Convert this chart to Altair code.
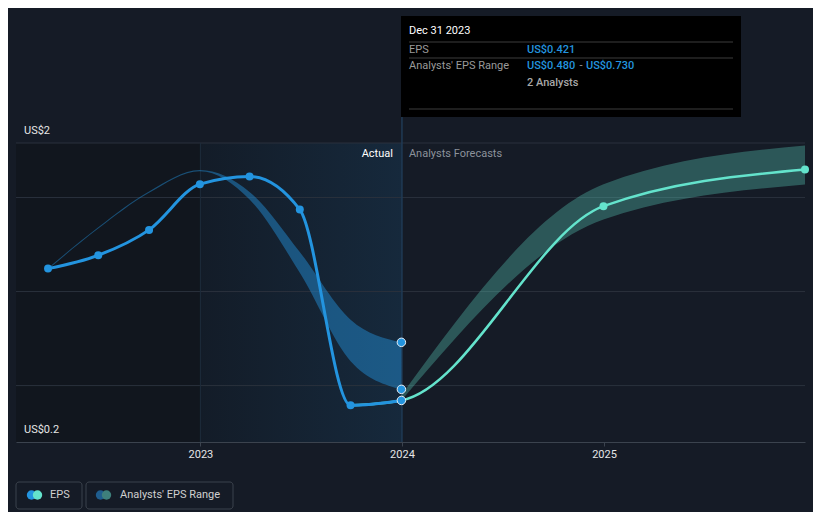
import altair as alt
import pandas as pd

# ---------------- data ----------------
eps_dates = ["2022-03-31", "2022-06-30", "2022-09-30", "2022-12-31",
             "2023-03-31", "2023-06-30", "2023-09-30", "2023-12-31"]
eps_values = [1.122, 1.193, 1.328, 1.571, 1.612, 1.436, 0.395, 0.421]

# past analysts' EPS range (estimates made for each past quarter)
past_low = [1.118, 1.335, 1.525, 1.640, 1.490, 1.100, 0.630, 0.480]
past_high = [1.124, 1.342, 1.532, 1.646, 1.530, 1.210, 0.850, 0.730]

# forecasts
fc_dates = ["2023-12-31", "2024-12-31", "2025-12-31"]
fc_eps = [0.421, 1.454, 1.649]
fc_low = [0.421, 1.383, 1.569]
fc_high = [0.450, 1.570, 1.777]

y_ticks = [0.5, 1.0, 1.5, 1.79]
y_label_values = [1.79, 0.2]
y_label_texts = ["US$2", "US$0.2"]
x_years = [2023, 2024, 2025]

# ---------------- layout / style ----------------
W, H = 789, 299
BG = "#151b26"
BLUE = "#2394df"
TEAL = "#64e3cc"
FONT = "Roboto"

xscale = alt.Scale(type="utc", domain=[alt.DateTime(year=2022, month=2, date=1, utc=True),
                                       alt.DateTime(year=2025, month=12, date=31, utc=True)])
yscale = alt.Scale(domain=[0.2, 1.79], zero=False, nice=False)

xaxis = alt.Axis(values=[alt.DateTime(year=y, month=1, date=1, utc=True) for y in x_years],
                 format="%Y", title=None, grid=False, labelColor="#e6e6e6", labelFont=FONT,
                 labelFontSize=11, tickSize=4, tickColor="#3b434e", domainColor="#3b434e",
                 labelPadding=2, labelFlush=False)
yaxis = alt.Axis(values=y_ticks, labels=False, ticks=False, domain=False, grid=False, title=None)


def X(field="date"):
    return alt.X(f"{field}:T", scale=xscale, axis=xaxis)


def Y(field):
    return alt.Y(f"{field}:Q", scale=yscale, axis=yaxis)


eps_df = pd.DataFrame({"date": eps_dates, "eps": eps_values, "low": past_low, "high": past_high})
fc_df = pd.DataFrame({"date": fc_dates, "eps": fc_eps, "low": fc_low, "high": fc_high})
# teal forecast line continues the actual series (smooth join at Dec 2023)
teal_df = pd.DataFrame({"date": [eps_dates[-2]] + fc_dates, "eps": [eps_values[-2]] + fc_eps})
dot_df = pd.DataFrame({"date": [eps_dates[-1]] * 3,
                       "v": [eps_values[-1], past_low[-1], past_high[-1]]})
ylab_df = pd.DataFrame({"v": y_label_values, "t": y_label_texts})

dummy = pd.DataFrame({"k": [0]})

# shaded backgrounds
shade_left = alt.Chart(pd.DataFrame({"a": ["2022-02-01"], "b": ["2023-01-01"]})).mark_rect(
    color="#11161e").encode(x=X("a"), x2="b:T", y=alt.value(0), y2=alt.value(H))
shade_mid = alt.Chart(pd.DataFrame({"a": ["2023-01-01"], "b": ["2024-01-01"]})).mark_rect(
    color=alt.Gradient(gradient="linear",
                       stops=[alt.GradientStop(color="#131c28", offset=0),
                              alt.GradientStop(color="#16293c", offset=1)],
                       x1=0, x2=1, y1=0, y2=0)
).encode(x=X("a"), x2="b:T", y=alt.value(0), y2=alt.value(H))

grid_layer = alt.Chart(pd.DataFrame({"v": y_ticks})).mark_rule(
    color="#2a313c", strokeWidth=1).encode(y=Y("v"))

rule23 = alt.Chart(pd.DataFrame({"date": ["2023-01-01"]})).mark_rule(
    color="#1d2b3b", strokeWidth=1).encode(x=X(), y=alt.value(0), y2=alt.value(H))
rule24 = alt.Chart(pd.DataFrame({"date": ["2024-01-01"]})).mark_rule(
    color="#1f3a55", strokeWidth=1.5).encode(x=X(), y=alt.value(-26), y2=alt.value(H))

past_band = alt.Chart(eps_df).mark_area(interpolate="monotone", color=BLUE, opacity=0.45).encode(
    x=X(), y=Y("low"), y2="high:Q")
fc_band = alt.Chart(fc_df).mark_area(interpolate="monotone", color=TEAL, opacity=0.3).encode(
    x=X(), y=Y("low"), y2="high:Q")

teal_line = alt.Chart(teal_df).mark_line(interpolate="monotone", color=TEAL, strokeWidth=2.5).encode(
    x=X(), y=Y("eps"))
teal_pts = alt.Chart(fc_df.iloc[1:]).mark_point(filled=True, color=TEAL, size=64, opacity=1).encode(
    x=X(), y=Y("eps"))

blue_line = alt.Chart(eps_df).mark_line(interpolate="monotone", color=BLUE, strokeWidth=3).encode(
    x=X(), y=Y("eps"))
blue_pts = alt.Chart(eps_df.iloc[:-1]).mark_point(filled=True, color=BLUE, size=64, opacity=1).encode(
    x=X(), y=Y("eps"))
dots = alt.Chart(dot_df).mark_point(filled=True, fill=BLUE, stroke="#e8eef5", strokeWidth=1,
                                    size=72, opacity=1).encode(x=X(), y=Y("v"))

ylabels = alt.Chart(ylab_df).mark_text(align="left", baseline="middle", dy=-12, font=FONT,
                                       fontSize=11, color="#e6e6e6").encode(
    x=alt.value(8), y=Y("v"), text="t:N")

lab_df = pd.DataFrame({"date": ["2024-01-01"]})
actual_lab = alt.Chart(lab_df).mark_text(align="right", baseline="middle", dx=-9, font=FONT,
                                         fontSize=11, color="#ffffff", text="Actual").encode(
    x=X(), y=alt.value(11))
fc_lab = alt.Chart(lab_df).mark_text(align="left", baseline="middle", dx=7, font=FONT,
                                     fontSize=11, color="#8c929b", text="Analysts Forecasts").encode(
    x=X(), y=alt.value(11))


def txt(text, x, y, color, size=11, weight="normal", align="left"):
    return alt.Chart(dummy).mark_text(text=text, align=align, baseline="middle", font=FONT,
                                      fontSize=size, fontWeight=weight, color=color).encode(
        x=alt.value(x), y=alt.value(y))


def hrule(x1, x2, y, color):
    return alt.Chart(dummy).mark_rule(color=color, strokeWidth=1).encode(
        x=alt.value(x1), x2=alt.value(x2), y=alt.value(y))


# tooltip box (Dec 31 2023)
tip_box = alt.Chart(dummy).mark_rect(color="#000000").encode(
    x=alt.value(385), x2=alt.value(725), y=alt.value(-127), y2=alt.value(-26))
tip = [
    tip_box,
    txt("Dec 31 2023", 393, -112, "#ffffff"),
    hrule(393, 717, -101, "#3c3c3c"),
    txt("EPS", 393, -93, "#9a9a9a"),
    txt("US$0.421", 511, -93, BLUE, weight=500),
    hrule(393, 717, -85, "#3c3c3c"),
    txt("Analysts' EPS Range", 393, -77, "#9a9a9a"),
    txt("US$0.480", 511, -77, BLUE, weight=500),
    txt("-", 565, -77, "#9a9a9a", align="center"),
    txt("US$0.730", 570, -77, BLUE, weight=500),
    txt("2 Analysts", 511, -60, "#a8a8a8", weight=500),
    hrule(393, 717, -34, "#3c3c3c"),
]


# legend
def box(x1, x2):
    return alt.Chart(dummy).mark_rect(fill="transparent", stroke="#3b424c", strokeWidth=1,
                                      cornerRadius=3).encode(
        x=alt.value(x1), x2=alt.value(x2), y=alt.value(339), y2=alt.value(366))


def dot(x, color):
    return alt.Chart(dummy).mark_point(filled=True, color=color, size=88, opacity=1).encode(
        x=alt.value(x), y=alt.value(352))


legend = [
    box(0, 66), dot(15.5, BLUE), dot(21.5, TEAL), txt("EPS", 34, 352, "#d0d0d0"),
    box(70, 217), dot(84.5, "#1f5d8e"), dot(90.5, "#3e807c"),
    txt("Analysts' EPS Range", 104, 352, "#d0d0d0"),
]

chart = alt.layer(
    shade_left, shade_mid, grid_layer, rule23, rule24,
    past_band, fc_band, teal_line, teal_pts, blue_line, blue_pts, dots,
    ylabels, actual_lab, fc_lab, *tip, *legend
).properties(
    width=W, height=H, background=BG,
    padding={"left": 8, "top": 135, "right": 8, "bottom": 70},
    autosize=alt.AutoSizeParams(type="none"),
).configure_view(stroke=None)

chart.save("out.html", embed_options={"renderer": "svg", "actions": False})
